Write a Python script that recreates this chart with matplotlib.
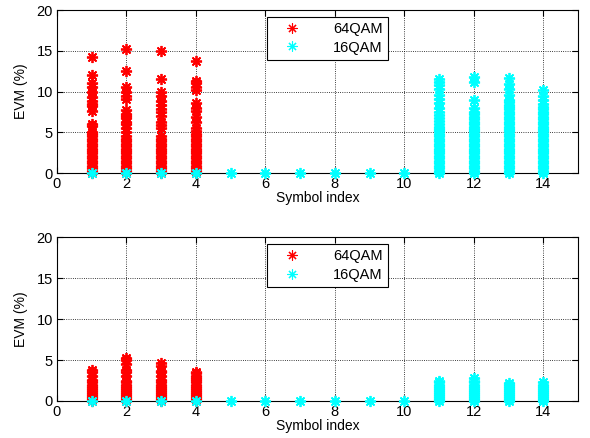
import numpy as np
import matplotlib.pyplot as plt

plt.rcParams['font.family'] = ['Liberation Sans', 'DejaVu Sans']

# symbol index of each OFDM symbol group
sym_64 = [1, 2, 3, 4]
sym_16 = [5, 6, 7, 8, 9, 10, 11, 12, 13, 14]

# EVM (%) samples per symbol, top panel (before correction)
evm64_top = {
    1: [0.0, 0.3, 0.6, 0.9, 1.2, 1.5, 1.8, 2.1, 2.4, 2.7, 3.0, 3.3, 3.6, 3.9, 4.2, 4.5, 4.8, 5.0,
        5.8, 6.0, 7.6, 8.2, 8.5, 8.8, 9.3, 10.0, 10.5, 11.0, 12.0, 14.2],
    2: [0.0, 0.3, 0.6, 0.9, 1.2, 1.5, 1.8, 2.1, 2.4, 2.7, 3.0, 3.3, 3.6, 3.9, 4.2, 4.5, 5.0, 5.5,
        6.0, 6.3, 6.7, 7.0, 7.3, 7.7, 9.1, 9.4, 10.0, 10.6, 12.5, 15.2],
    3: [0.0, 0.3, 0.6, 0.9, 1.2, 1.5, 1.8, 2.1, 2.4, 2.7, 3.0, 3.3, 3.6, 3.9, 4.2, 4.5, 5.5, 5.9,
        6.3, 7.0, 7.5, 7.8, 8.3, 8.9, 9.5, 10.0, 11.6, 15.0],
    4: [0.0, 0.3, 0.6, 0.9, 1.2, 1.5, 1.8, 2.1, 2.4, 2.7, 3.0, 3.3, 3.6, 3.9, 4.2, 4.5, 4.8, 5.1,
        5.5, 6.3, 6.9, 7.6, 8.0, 8.6, 10.2, 10.6, 11.0, 11.3, 13.8],
}
evm16_top = {
    1: [0.0], 2: [0.0], 3: [0.0], 4: [0.0],
    5: [0.0], 6: [0.0], 7: [0.0], 8: [0.0], 9: [0.0], 10: [0.0],
    11: [0.0, 0.3, 0.6, 0.9, 1.2, 1.5, 1.8, 2.1, 2.4, 2.7, 3.0, 3.3, 3.6, 3.9, 4.2, 4.5, 4.8,
         5.1, 5.4, 5.7, 6.0, 6.4, 6.8, 7.1, 7.5, 8.0, 8.6, 9.1, 9.6, 10.3, 10.8, 11.2, 11.6],
    12: [0.0, 0.3, 0.6, 0.9, 1.2, 1.5, 1.8, 2.1, 2.4, 2.7, 3.0, 3.3, 3.6, 3.9, 4.2, 4.5, 4.8,
         5.1, 5.4, 5.7, 6.0, 6.3, 6.6, 6.9, 7.2, 7.5, 8.0, 9.0, 11.2, 11.8],
    13: [0.0, 0.3, 0.6, 0.9, 1.2, 1.5, 1.8, 2.1, 2.4, 2.7, 3.0, 3.3, 3.6, 3.9, 4.2, 4.5, 4.8,
         5.1, 5.4, 5.7, 6.0, 6.3, 6.6, 6.9, 7.2, 7.5, 7.8, 8.1, 8.4, 8.7, 9.0, 9.6, 10.3,
         10.9, 11.7],
    14: [0.0, 0.3, 0.6, 0.9, 1.2, 1.5, 1.8, 2.1, 2.4, 2.7, 3.0, 3.3, 3.6, 3.9, 4.2, 4.5, 4.8,
         5.1, 5.4, 5.7, 6.0, 6.3, 6.6, 6.9, 7.2, 7.5, 7.8, 8.1, 8.5, 9.0, 9.5, 10.2],
}

# EVM (%) samples per symbol, bottom panel (after correction)
evm64_bot = {
    1: [0.0, 0.25, 0.5, 0.75, 1.0, 1.25, 1.5, 1.75, 2.0, 2.3, 2.6, 3.0, 3.6, 3.8],
    2: [0.0, 0.25, 0.5, 0.75, 1.0, 1.25, 1.5, 1.75, 2.0, 2.3, 2.5, 3.0, 3.5, 3.8, 4.5, 5.0, 5.3],
    3: [0.0, 0.25, 0.5, 0.75, 1.0, 1.25, 1.5, 1.75, 2.0, 2.3, 2.6, 3.0, 3.5, 3.7, 4.3, 4.6],
    4: [0.0, 0.25, 0.5, 0.75, 1.0, 1.25, 1.5, 1.75, 2.0, 2.3, 2.6, 2.8, 3.1, 3.4, 3.6],
}
evm16_bot = {
    1: [0.0], 2: [0.0], 3: [0.0], 4: [0.0],
    5: [0.0], 6: [0.0], 7: [0.0], 8: [0.0], 9: [0.0], 10: [0.0],
    11: [0.0, 0.25, 0.5, 0.75, 1.0, 1.25, 1.5, 1.75, 2.0, 2.3, 2.5],
    12: [0.0, 0.25, 0.5, 0.75, 1.0, 1.25, 1.5, 1.75, 2.0, 2.3, 2.5, 2.8],
    13: [0.0, 0.25, 0.5, 0.75, 1.0, 1.25, 1.5, 1.75, 2.0, 2.2],
    14: [0.0, 0.25, 0.5, 0.75, 1.0, 1.25, 1.5, 1.75, 2.0, 2.3],
}

ast = (8, 2, 0)  # matlab style asterisk


def flat(d):
    xs, ys = [], []
    for k, v in d.items():
        xs += [k] * len(v)
        ys += v
    return xs, ys


fig = plt.figure(figsize=(5.9, 4.38), dpi=100)
ax1 = fig.add_axes([0.0966, 0.605, 0.883, 0.372])
ax2 = fig.add_axes([0.0966, 0.0845, 0.883, 0.374])

for ax, d64, d16 in [(ax1, evm64_top, evm16_top), (ax2, evm64_bot, evm16_bot)]:
    x, y = flat(d64)
    ax.plot(x, y, ls='none', marker=ast, ms=8, mew=1.3, color='#ff0000', label='64QAM',
            clip_on=False, zorder=3)
    x, y = flat(d16)
    ax.plot(x, y, ls='none', marker=ast, ms=8, mew=1.3, color='#00ffff', label='16QAM',
            clip_on=False, zorder=3)
    ax.set_xlim(0, 15)
    ax.set_ylim(0, 20)
    ax.set_xticks([0, 2, 4, 6, 8, 10, 12, 14])
    ax.set_yticks([0, 5, 10, 15, 20])
    ax.grid(True, ls=':', color='k', lw=0.6)
    ax.tick_params(direction='in', top=True, right=True, length=4, labelsize=10.5, pad=3)
    ax.set_xlabel('Symbol index', fontsize=10, labelpad=0)
    ax.set_ylabel('EVM (%)', fontsize=10, labelpad=6)
    for s in ax.spines.values():
        s.set_linewidth(0.8)
    leg = ax.legend(loc='upper left', bbox_to_anchor=(0.403, 0.957), borderaxespad=0,
                    fancybox=False, edgecolor='k', framealpha=1, fontsize=10.5,
                    handlelength=2.8, handletextpad=1.4, borderpad=0.35, labelspacing=0.3,
                    markerscale=0.9)
    for h in leg.legend_handles:
        h.set_markeredgewidth(0.8)
    leg.get_frame().set_linewidth(0.8)
    leg.set_zorder(5)

fig.savefig('out.png', dpi=100)
